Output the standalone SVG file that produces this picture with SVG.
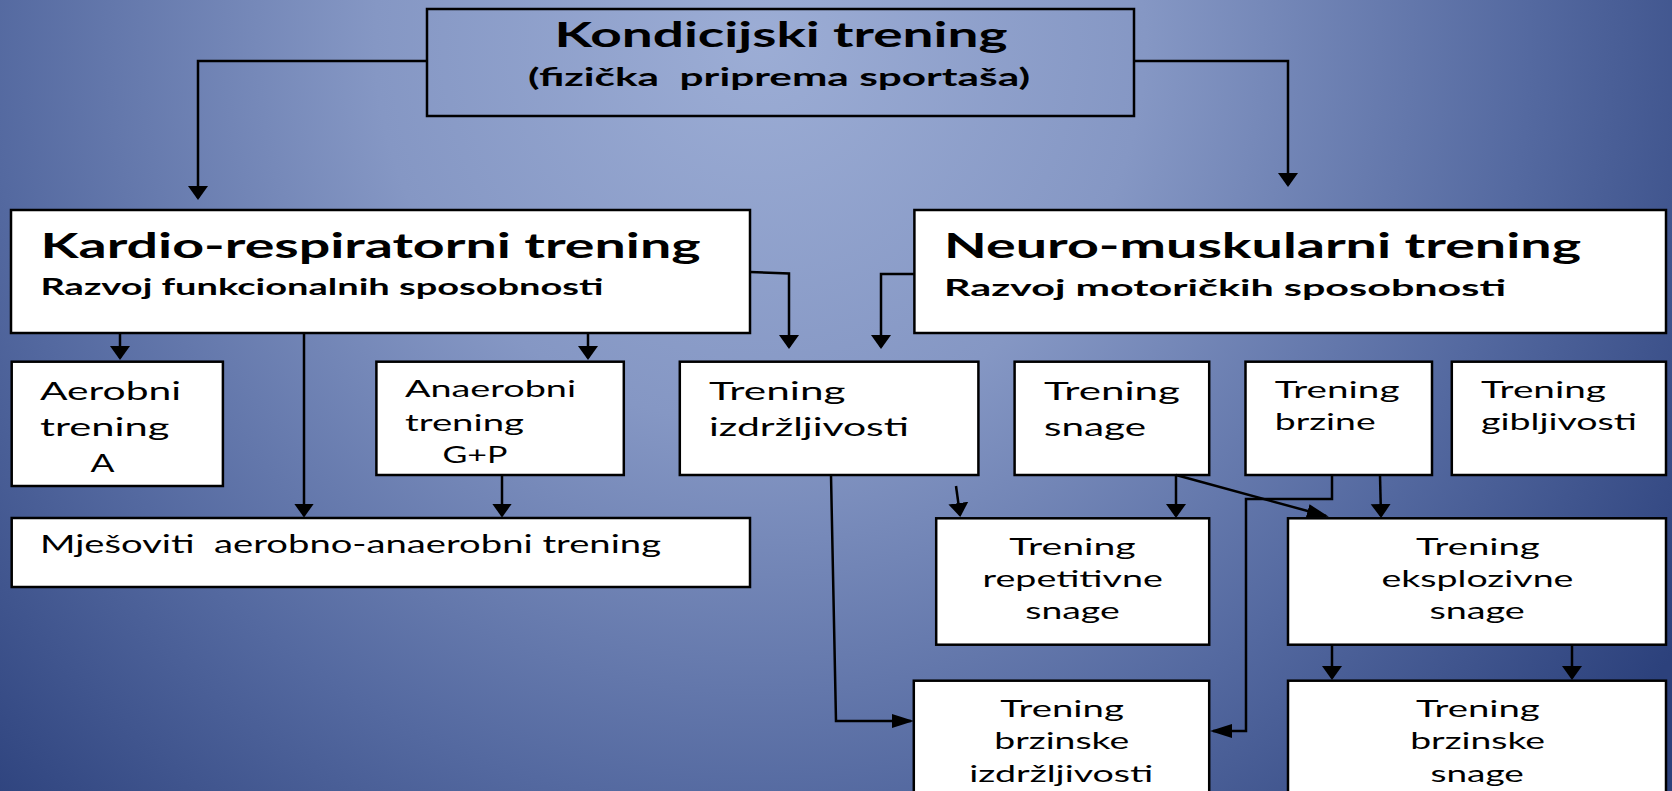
<svg xmlns="http://www.w3.org/2000/svg" width="1672" height="791" viewBox="0 0 1672 791">
<defs>
<radialGradient id="bg" gradientUnits="userSpaceOnUse" cx="760" cy="40" r="1100">
<stop offset="0" stop-color="#9cadd5"/>
<stop offset="0.35" stop-color="#8597c4"/>
<stop offset="0.7" stop-color="#5469a0"/>
<stop offset="1" stop-color="#2c417c"/>
</radialGradient>
<marker id="aV" markerUnits="userSpaceOnUse" orient="auto" markerWidth="16" markerHeight="22" refX="12" refY="11"><path d="M0,1 L14,11 L0,21 z" fill="#000"/></marker>
<marker id="aH" markerUnits="userSpaceOnUse" orient="auto" markerWidth="24" markerHeight="16" refX="19" refY="8"><path d="M0,1 L22,8 L0,15 z" fill="#000"/></marker>
</defs>
<style>
.box{fill:#fff;stroke:#000;stroke-width:2.5}
.top{fill:none;stroke:#000;stroke-width:2.5}
.t{font-family:Lato,'Open Sans','Liberation Sans',sans-serif;fill:#000;white-space:pre}
.b{font-weight:bold}
.c{fill:none;stroke:#000;stroke-width:2.5}
.v{marker-end:url(#aV)}
.h{marker-end:url(#aH)}
</style>
<rect x="0" y="0" width="1672" height="791" fill="url(#bg)"/>

<g id="kondicijski">
<rect class="top" x="427" y="9" width="707" height="107"/>
<text class="t b" x="554.5" y="46.7" font-size="34" textLength="453" lengthAdjust="spacingAndGlyphs">Kondicijski trening</text>
<text class="t b" x="528" y="86" font-size="24" textLength="502" lengthAdjust="spacingAndGlyphs">(fizička  priprema sportaša)</text>
</g>

<g id="kardio">
<rect class="box" x="11" y="210" width="739" height="123"/>
<text class="t b" x="40.5" y="257.7" font-size="35" textLength="660" lengthAdjust="spacingAndGlyphs">Kardio-respiratorni trening</text>
<text class="t b" x="40.5" y="295" font-size="22" textLength="563" lengthAdjust="spacingAndGlyphs">Razvoj funkcionalnih sposobnosti</text>
</g>

<g id="neuro">
<rect class="box" x="914.4" y="210" width="751.6" height="123"/>
<text class="t b" x="944" y="258" font-size="35" textLength="637" lengthAdjust="spacingAndGlyphs">Neuro-muskularni trening</text>
<text class="t b" x="944" y="296" font-size="22" textLength="562" lengthAdjust="spacingAndGlyphs">Razvoj motoričkih sposobnosti</text>
</g>

<g id="aerobni">
<rect class="box" x="11.7" y="361.7" width="211.2" height="124.3"/>
<text class="t" x="40" y="400" font-size="25" textLength="141" lengthAdjust="spacingAndGlyphs">Aerobni</text>
<text class="t" x="40" y="436" font-size="25" textLength="129.5" lengthAdjust="spacingAndGlyphs">trening</text>
<text class="t" x="90.6" y="472.3" font-size="25" textLength="24" lengthAdjust="spacingAndGlyphs">A</text>
</g>

<g id="anaerobni">
<rect class="box" x="376.4" y="361.7" width="247.4" height="113.3"/>
<text class="t" x="405" y="396.7" font-size="24" textLength="171" lengthAdjust="spacingAndGlyphs">Anaerobni</text>
<text class="t" x="405" y="430.7" font-size="24" textLength="119" lengthAdjust="spacingAndGlyphs">trening</text>
<text class="t" x="442.5" y="463.3" font-size="24" textLength="65" lengthAdjust="spacingAndGlyphs">G+P</text>
</g>

<g id="izdrzljivost">
<rect class="box" x="679.8" y="361.7" width="298.6" height="113.3"/>
<text class="t" x="709" y="400" font-size="25" textLength="136.6" lengthAdjust="spacingAndGlyphs">Trening</text>
<text class="t" x="709" y="436" font-size="25" textLength="200" lengthAdjust="spacingAndGlyphs">izdržljivosti</text>
</g>

<g id="snaga">
<rect class="box" x="1014.6" y="361.7" width="194.6" height="113.3"/>
<text class="t" x="1044" y="400" font-size="25" textLength="136" lengthAdjust="spacingAndGlyphs">Trening</text>
<text class="t" x="1044" y="436" font-size="25" textLength="102" lengthAdjust="spacingAndGlyphs">snage</text>
</g>

<g id="brzina">
<rect class="box" x="1245.5" y="361.7" width="186.5" height="113.3"/>
<text class="t" x="1274.8" y="398.3" font-size="24" textLength="124.7" lengthAdjust="spacingAndGlyphs">Trening</text>
<text class="t" x="1274.8" y="430" font-size="24" textLength="100.8" lengthAdjust="spacingAndGlyphs">brzine</text>
</g>

<g id="gibljivost">
<rect class="box" x="1451.8" y="361.7" width="214.2" height="113.3"/>
<text class="t" x="1481" y="398.3" font-size="24" textLength="125" lengthAdjust="spacingAndGlyphs">Trening</text>
<text class="t" x="1481" y="430" font-size="24" textLength="156" lengthAdjust="spacingAndGlyphs">gibljivosti</text>
</g>

<g id="mjesoviti">
<rect class="box" x="11.7" y="518" width="738.3" height="69"/>
<text class="t" x="40" y="553.3" font-size="25" textLength="621" lengthAdjust="spacingAndGlyphs">Mješoviti  aerobno-anaerobni trening</text>
</g>

<g id="repetitivna">
<rect class="box" x="936.2" y="518.3" width="273" height="126.4"/>
<text class="t" x="1009.3" y="555" font-size="24" textLength="126.4" lengthAdjust="spacingAndGlyphs">Trening</text>
<text class="t" x="982.6" y="587.3" font-size="24" textLength="180.2" lengthAdjust="spacingAndGlyphs">repetitivne</text>
<text class="t" x="1025.3" y="619.3" font-size="24" textLength="94.4" lengthAdjust="spacingAndGlyphs">snage</text>
</g>

<g id="eksplozivna">
<rect class="box" x="1288" y="518.3" width="378" height="126.4"/>
<text class="t" x="1416.1" y="555" font-size="24" textLength="123.7" lengthAdjust="spacingAndGlyphs">Trening</text>
<text class="t" x="1381.4" y="587.3" font-size="24" textLength="192" lengthAdjust="spacingAndGlyphs">eksplozivne</text>
<text class="t" x="1429.4" y="619.3" font-size="24" textLength="95.4" lengthAdjust="spacingAndGlyphs">snage</text>
</g>

<g id="brzinska-izdrzljivost">
<rect class="box" x="913.8" y="680.7" width="295.4" height="130"/>
<text class="t" x="1000.2" y="716.7" font-size="24" textLength="123.7" lengthAdjust="spacingAndGlyphs">Trening</text>
<text class="t" x="994.3" y="749.3" font-size="24" textLength="134.9" lengthAdjust="spacingAndGlyphs">brzinske</text>
<text class="t" x="969.3" y="782" font-size="24" textLength="184" lengthAdjust="spacingAndGlyphs">izdržljivosti</text>
</g>

<g id="brzinska-snaga">
<rect class="box" x="1288" y="680.7" width="378" height="130"/>
<text class="t" x="1416.1" y="716.7" font-size="24" textLength="123.7" lengthAdjust="spacingAndGlyphs">Trening</text>
<text class="t" x="1410.2" y="749.3" font-size="24" textLength="134.9" lengthAdjust="spacingAndGlyphs">brzinske</text>
<text class="t" x="1430.5" y="782" font-size="24" textLength="93.3" lengthAdjust="spacingAndGlyphs">snage</text>
</g>

<g id="connectors">
<path class="c v" d="M427,61 H198 V198"/>
<path class="c v" d="M1134,61 H1288 V185"/>
<path class="c v" d="M750,272 L789,273.5 V347"/>
<path class="c v" d="M914,274 H881 V347"/>
<path class="c v" d="M120,333 V358"/>
<path class="c v" d="M304,333 V515.5"/>
<path class="c v" d="M588,333 V358"/>
<path class="c v" d="M502,475 V515.5"/>
<path class="c h" d="M831,475 L836,721 H911"/>
<path class="c v" d="M956,486 L960,515"/>
<path class="c v" d="M1176,475 V516"/>
<path class="c h" d="M1176,475 L1326,516"/>
<path class="c h" d="M1332,475 V499 H1246 V731 H1213"/>
<path class="c v" d="M1380,475 L1381,516"/>
<path class="c v" d="M1332,645 V678"/>
<path class="c v" d="M1572,645 V678"/>
</g>
</svg>
